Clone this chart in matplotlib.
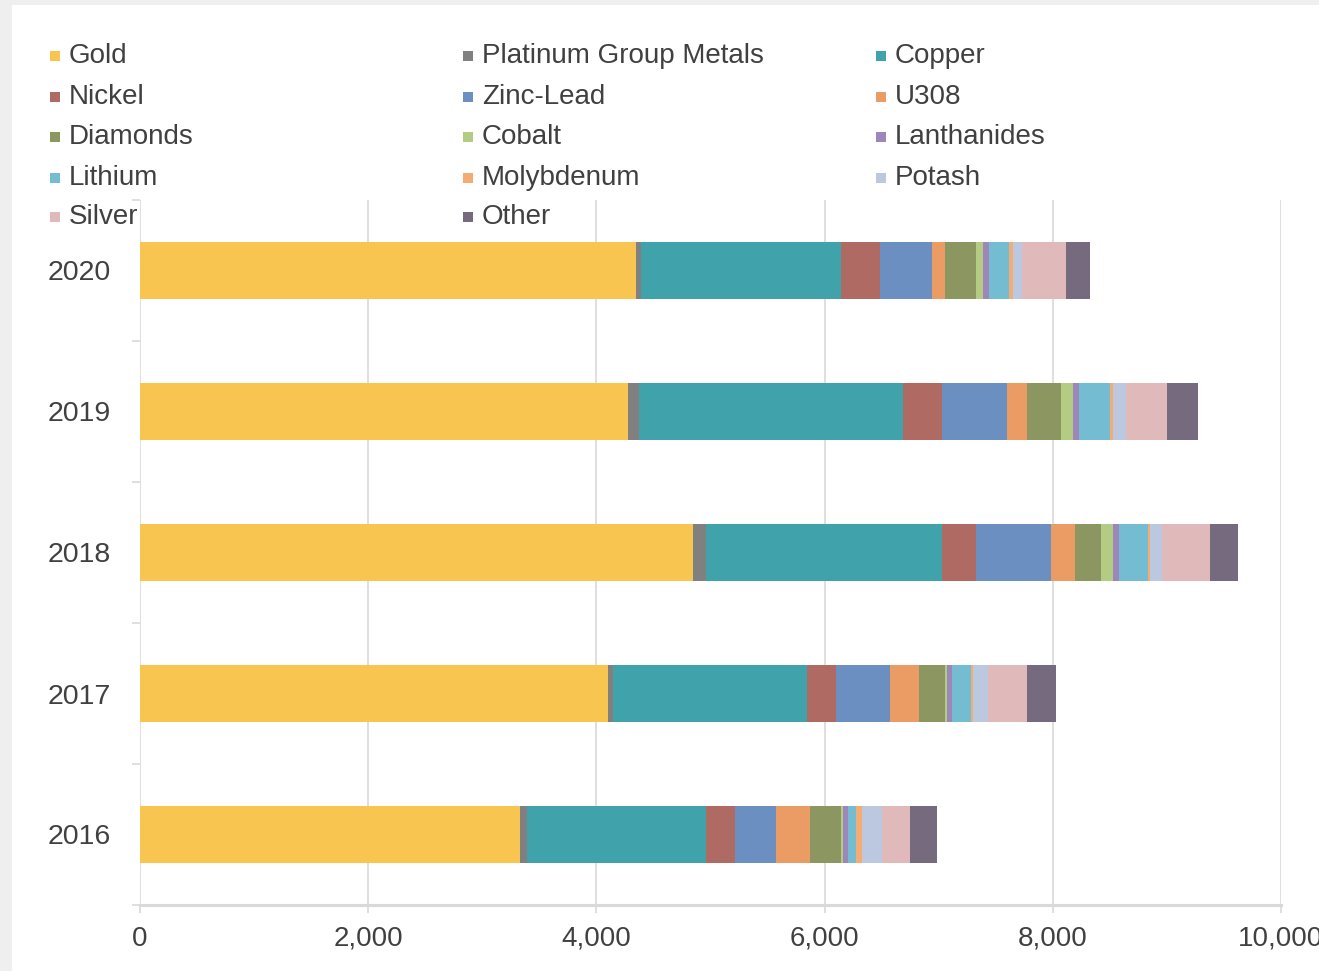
import numpy as np
import matplotlib.pyplot as plt
from matplotlib.patches import Rectangle

plt.rcParams['font.family'] = ['Liberation Sans', 'DejaVu Sans']

#------------------------------------------------------------------------------
years = ['2016', '2017', '2018', '2019', '2020']
materials = ['Gold', 'Platinum Group Metals', 'Copper', 'Nickel', 'Zinc-Lead',
             'U308', 'Diamonds', 'Cobalt', 'Lanthanides', 'Lithium',
             'Molybdenum', 'Potash', 'Silver', 'Other']

gold       = [3327, 4098, 4845, 4277, 4343]
pgm        = [65, 47, 117, 97, 46]
copper     = [1570, 1704, 2069, 2312, 1752]
nickel     = [251, 248, 295, 339, 345]
zinc_lead  = [362, 476, 662, 571, 452]
u308       = [295, 251, 204, 180, 114]
diamonds   = [274, 231, 227, 295, 271]
cobalt     = [21, 20, 110, 110, 68]
lanthanide = [43, 44, 49, 49, 46]
lithium    = [70, 161, 253, 273, 181]
molybdenum = [47, 20, 23, 24, 29]
potash     = [178, 134, 107, 115, 82]
silver     = [248, 339, 415, 360, 385]
other      = [231, 254, 250, 273, 211]

series = [gold, pgm, copper, nickel, zinc_lead, u308, diamonds, cobalt,
          lanthanide, lithium, molybdenum, potash, silver, other]
colors = ['#F8C550', '#808080', '#40A2AA', '#B06A64', '#6A8FC0', '#EA9C64',
          '#8C9660', '#B3CB82', '#9D86BA', '#74BCD2', '#F5AC72', '#BBC8DF',
          '#E0B9BA', '#766B7E']
#------------------------------------------------------------------------------
W, H = 1319, 971
fig = plt.figure(figsize=(W/100, H/100), dpi=100)
fig.patch.set_facecolor('#EFEFEF')
fig.add_artist(Rectangle((12/W, 0), 1, 1 - 5/H, transform=fig.transFigure,
                         facecolor='white', edgecolor='none', zorder=0))

ax = fig.add_axes([140/W, 1 - 905/H, (1281 - 140)/W, (905 - 200)/H])
ax.set_facecolor('none')

y = np.arange(len(years))
left = np.zeros(len(years))
for vals, col in zip(series, colors):
    ax.barh(y, vals, left=left, height=0.4, color=col, edgecolor='none', zorder=3)
    left += np.array(vals)

ax.set_xlim(0, 10000)
ax.set_ylim(-0.5, len(years) - 0.5)
ax.set_xticks(np.arange(0, 10001, 2000))
ax.set_xticklabels(['{:,}'.format(v) for v in range(0, 10001, 2000)])
ax.set_yticks(y)
ax.set_yticklabels(years)
ax.set_yticks(np.arange(-0.5, len(years), 1), minor=True)
ax.grid(axis='x', color='#D9D9D9', lw=1.2, zorder=0)

for s in ['top', 'right', 'left']:
    ax.spines[s].set_visible(False)
ax.spines['bottom'].set_color('#D9D9D9')
ax.spines['bottom'].set_linewidth(2.2)

ax.tick_params(axis='x', colors='#D9D9D9', length=6, width=1.2, pad=9,
               labelsize=20, labelcolor='#404040')
ax.tick_params(axis='y', which='major', length=0, pad=21,
               labelsize=20.5, labelcolor='#404040')
ax.tick_params(axis='y', which='minor', length=6, width=1.2, color='#D9D9D9')
for lab in ax.get_xticklabels():
    lab.set_clip_on(False)

# legend, row by row in three columns
col_x = [50, 463, 876]
row_y = [56, 97, 137, 178, 217]
for i, (name, col) in enumerate(zip(materials, colors)):
    r, c = divmod(i, 3)
    x0, y0 = col_x[c], row_y[r]
    fig.add_artist(Rectangle((x0/W, 1 - (y0 + 5)/H), 10/W, 10/H,
                             transform=fig.transFigure, facecolor=col,
                             edgecolor='none', zorder=5))
    fig.text((x0 + 19)/W, 1 - y0/H, name, ha='left', va='center',
             fontsize=20, color='#404040', zorder=5)

fig.savefig('out.png', dpi=100, facecolor=fig.get_facecolor())
